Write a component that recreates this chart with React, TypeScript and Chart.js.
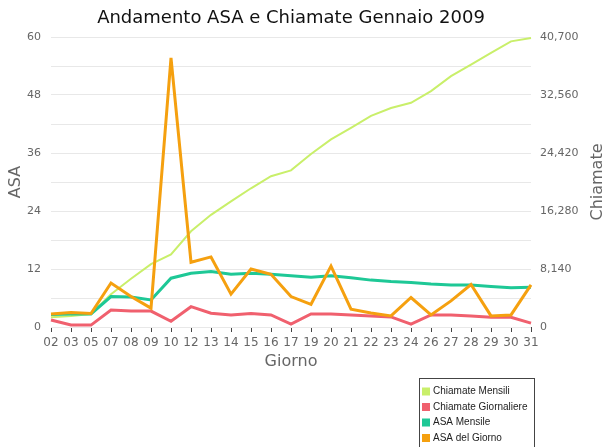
import React, { useEffect, useRef } from 'react';
import { Chart, registerables } from 'chart.js';

Chart.register(...registerables);

const days = ['02', '03', '05', '07', '08', '09', '10', '12', '13', '14', '15', '16', '17', '19', '20', '21', '22', '23', '24', '26', '27', '28', '29', '30', '31'];

const chiamateMensili = [1360, 1560, 1830, 4610, 6780, 8820, 10180, 13430, 15740, 17640, 19470, 21160, 21980, 24280, 26320, 27950, 29640, 30730, 31470, 33100, 35200, 36830, 38460, 40090, 40560];
const chiamateGiornaliere = [980, 270, 270, 2370, 2240, 2240, 810, 2850, 1930, 1700, 1900, 1700, 410, 1830, 1830, 1700, 1560, 1420, 410, 1700, 1700, 1560, 1360, 1360, 540];
const asaMensile = [2.6, 2.7, 2.7, 6.3, 6.2, 5.6, 10.1, 11.1, 11.5, 10.9, 11.1, 10.9, 10.6, 10.3, 10.6, 10.2, 9.7, 9.4, 9.2, 8.9, 8.7, 8.7, 8.4, 8.1, 8.2];
const asaGiorno = [2.7, 3.0, 2.8, 9.1, 6.3, 3.9, 55.7, 13.4, 14.5, 6.8, 12.0, 10.9, 6.3, 4.7, 12.6, 3.7, 2.9, 2.3, 6.1, 2.5, 5.4, 8.8, 2.3, 2.5, 8.7];

const seriesLabels = ['Chiamate Mensili', 'Chiamate Giornaliere', 'ASA Mensile', 'ASA del Giorno'];
const seriesColors = ['#c9ef6a', '#f0606e', '#1ec896', '#f5a00f'];

const asaMax = 60;
const asaStep = 6;
const chiamateMax = 40700;
const chiamateStep = 4070;

const titleText = 'Andamento ASA e Chiamate Gennaio 2009';
const leftTitle = 'ASA';
const rightTitle = 'Chiamate';
const xTitle = 'Giorno';

export default function App() {
  const ref = useRef<HTMLCanvasElement>(null);

  useEffect(() => {
    const canvas = ref.current;
    if (!canvas) return;

    const overlay = {
      id: 'overlay',
      afterDraw(chart: any) {
        const ctx = chart.ctx;
        const ca = chart.chartArea;
        const cx = (ca.left + ca.right) / 2;
        const cy = (ca.top + ca.bottom) / 2;
        ctx.save();
        ctx.textAlign = 'center';
        ctx.textBaseline = 'middle';
        ctx.fillStyle = '#111';
        ctx.font = '18px "DejaVu Sans"';
        ctx.fillText(titleText, cx, 18);

        ctx.fillStyle = '#666';
        ctx.font = '16px "DejaVu Sans"';
        ctx.fillText(xTitle, cx, 362);

        ctx.save();
        ctx.translate(16, cy);
        ctx.rotate(-Math.PI / 2);
        ctx.fillText(leftTitle, 0, 0);
        ctx.restore();

        ctx.save();
        ctx.translate(598, cy);
        ctx.rotate(-Math.PI / 2);
        ctx.fillText(rightTitle, 0, 0);
        ctx.restore();

        // legend
        ctx.strokeStyle = '#444';
        ctx.lineWidth = 1;
        ctx.strokeRect(419.5, 378.5, 115, 80);
        ctx.textAlign = 'left';
        ctx.font = '10px "Liberation Sans"';
        chart.data.datasets.forEach((ds: any, i: number) => {
          const y = 391.5 + i * 15.5;
          ctx.fillStyle = ds.borderColor;
          ctx.fillRect(422, y - 4, 8, 8);
          ctx.fillStyle = '#222';
          ctx.fillText(ds.label, 433, y);
        });
        ctx.restore();
      },
    };

    const chart = new Chart(canvas, {
      type: 'line',
      data: {
        labels: days,
        datasets: [
          { label: seriesLabels[0], data: chiamateMensili, yAxisID: 'y1', borderColor: seriesColors[0], borderWidth: 2, pointRadius: 0, order: 4 },
          { label: seriesLabels[1], data: chiamateGiornaliere, yAxisID: 'y1', borderColor: seriesColors[1], borderWidth: 3, pointRadius: 0, order: 3 },
          { label: seriesLabels[2], data: asaMensile, yAxisID: 'y', borderColor: seriesColors[2], borderWidth: 3, pointRadius: 0, order: 2 },
          { label: seriesLabels[3], data: asaGiorno, yAxisID: 'y', borderColor: seriesColors[3], borderWidth: 3, pointRadius: 0, order: 1 },
        ],
      },
      options: {
        responsive: false,
        animation: false,
        devicePixelRatio: 1,
        layout: { padding: { top: 37, left: 0, right: 0, bottom: 0 } },
        plugins: {
          legend: { display: false },
          title: { display: false },
          tooltip: { enabled: false },
        },
        elements: { line: { tension: 0 } },
        scales: {
          x: {
            type: 'category',
            offset: false,
            grid: { drawOnChartArea: false, drawTicks: true, tickLength: 5, color: '#444' },
            border: { display: false },
            ticks: { color: '#666', font: { family: 'DejaVu Sans', size: 12 }, padding: 4, maxRotation: 0, autoSkip: false },
            afterFit: (s: any) => { s.height = 120; },
          },
          y: {
            position: 'left',
            min: 0,
            max: asaMax,
            grid: { color: '#e8e8e8', drawTicks: false },
            border: { display: false },
            ticks: {
              stepSize: asaStep,
              padding: 10,
              color: '#666',
              font: { family: 'DejaVu Sans', size: 11 },
              callback: (v: any) => (Number(v) % 12 === 0 ? String(v) : ''),
            },
            afterFit: (s: any) => { s.width = 51; },
          },
          y1: {
            position: 'right',
            min: 0,
            max: chiamateMax,
            grid: { drawOnChartArea: false, drawTicks: false },
            border: { display: false },
            ticks: {
              stepSize: chiamateStep,
              padding: 9,
              color: '#666',
              font: { family: 'DejaVu Sans', size: 11 },
              callback: (v: any, i: number) => (i % 2 === 0 ? Number(v).toLocaleString('en-US') : ''),
            },
            afterFit: (s: any) => { s.width = 77; },
          },
        },
      },
      plugins: [overlay],
    } as any);

    return () => chart.destroy();
  }, []);

  return (
    <div style={{ position: 'fixed', left: 0, top: 0, width: 608, height: 447, background: '#fff' }}>
      <canvas ref={ref} width={608} height={447} style={{ display: 'block' }} />
    </div>
  );
}
